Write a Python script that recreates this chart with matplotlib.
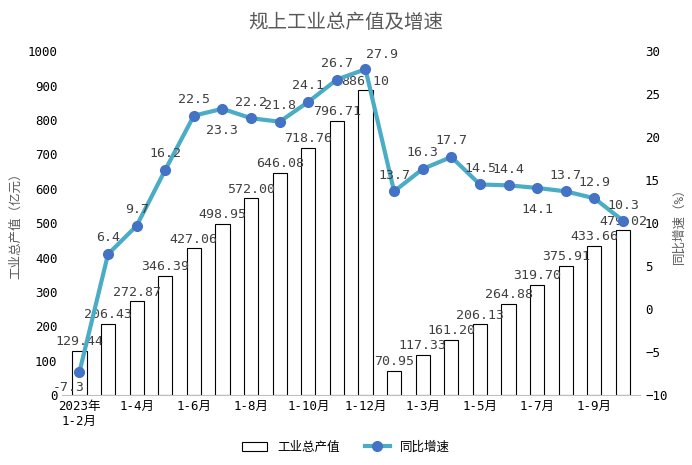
import matplotlib
matplotlib.use("Agg")
import matplotlib.pyplot as plt

plt.rcParams["font.family"] = ["DejaVu Sans Mono", "Noto Sans CJK SC"]

months = ["1-2月", "1-3月", "1-4月", "1-5月", "1-6月", "1-7月", "1-8月", "1-9月",
          "1-10月", "1-11月", "1-12月",
          "1-2月", "1-3月", "1-4月", "1-5月", "1-6月", "1-7月", "1-8月", "1-9月", "1-10月"]
output = [129.44, 206.43, 272.87, 346.39, 427.06, 498.95, 572.00, 646.08, 718.76, 796.71,
          886.10, 70.95, 117.33, 161.20, 206.13, 264.88, 319.70, 375.91, 433.66, 479.02]
growth = [-7.3, 6.4, 9.7, 16.2, 22.5, 23.3, 22.2, 21.8, 24.1, 26.7, 27.9,
          13.7, 16.3, 17.7, 14.5, 14.4, 14.1, 13.7, 12.9, 10.3]
tick_labels = ["2023年\n1-2月", "1-4月", "1-6月", "1-8月", "1-10月", "1-12月",
               "1-3月", "1-5月", "1-7月", "1-9月"]
# label placement for the growth line: (dx in points, dy in points)
offsets = {0: (-8, -16), 5: (0, -20), 10: (12, 6), 16: (0, -20), 19: (0, 6)}

fig, ax = plt.subplots(figsize=(6.92, 4.65), dpi=100)
fig.subplots_adjust(left=0.09, right=0.925, top=0.89, bottom=0.15)
x = list(range(len(output)))
ax.bar(x, output, 0.5, color="white", edgecolor="black", lw=0.8, label="工业总产值", zorder=2)
for i, v in enumerate(output):
    ax.text(i, v + 8, f"{v:.2f}", ha="center", va="bottom", fontsize=9.5, color="#404040", zorder=5)
ax.set_ylim(0, 1000)
ax.set_yticks(range(0, 1001, 100))
ax.set_xlim(-0.6, len(output) - 0.4)
ax.set_xticks(x[::2])
ax.set_xticklabels(tick_labels, fontsize=9)
ax.set_ylabel("工业总产值（亿元）", color="#595959", fontsize=9)
ax.tick_params(axis="y", labelsize=9, length=0)
ax.tick_params(axis="x", length=0)
for s in ["top", "right", "left"]:
    ax.spines[s].set_visible(False)
ax.spines["bottom"].set_color("#bfbfbf")

ax2 = ax.twinx()
ax2.plot(x, growth, color="#4bacc6", lw=3, marker="o", ms=7, mfc="#4472c4",
         mec="#4472c4", label="同比增速", zorder=3)
for i, v in enumerate(growth):
    dx, dy = offsets.get(i, (0, 7))
    ax2.annotate(f"{v}", (i, v), xytext=(dx, dy), textcoords="offset points",
                 ha="center", va="bottom", fontsize=9.5, color="#404040")
ax2.set_ylim(-10, 30)
ax2.set_yticks(range(-10, 31, 5))
ax2.set_ylabel("同比增速（%）", color="#595959", fontsize=9)
ax2.tick_params(axis="y", labelsize=9, length=0)
for s in ["top", "right", "left", "bottom"]:
    ax2.spines[s].set_visible(False)

fig.suptitle("规上工业总产值及增速", fontsize=14, color="#595959", y=0.975,
             fontfamily="Noto Sans CJK SC")
h1, l1 = ax.get_legend_handles_labels()
h2, l2 = ax2.get_legend_handles_labels()
fig.legend(h1 + h2, l1 + l2, loc="lower center", ncol=2, frameon=False,
           fontsize=9, bbox_to_anchor=(0.5, 0.0))
fig.savefig("out.png", dpi=100)
